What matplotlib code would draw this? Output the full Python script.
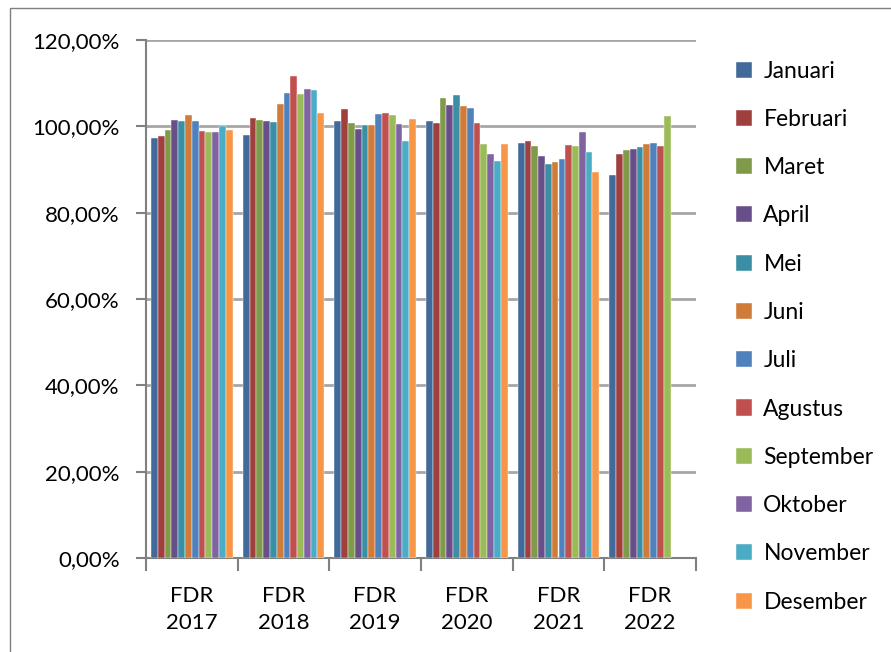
import matplotlib.pyplot as plt
import numpy as np
from matplotlib.patches import Rectangle
from matplotlib.ticker import FuncFormatter, MultipleLocator

plt.rcParams['font.family'] = ['Lato', 'DejaVu Sans']

# FDR per month, in percent
years = ["FDR\n2017", "FDR\n2018", "FDR\n2019", "FDR\n2020", "FDR\n2021", "FDR\n2022"]
months = ["Januari", "Februari", "Maret", "April", "Mei", "Juni", "Juli",
          "Agustus", "September", "Oktober", "November", "Desember"]

fdr_2017 = [97.3, 97.8, 99.1, 101.5, 101.2, 102.7, 101.3, 99.0, 98.8, 98.7, 100.1, 99.2]
fdr_2018 = [98.0, 102.0, 101.4, 101.2, 101.1, 105.1, 107.7, 111.7, 107.6, 108.7, 108.5, 103.2]
fdr_2019 = [101.3, 104.0, 100.8, 99.3, 100.2, 100.2, 102.9, 103.2, 102.6, 100.5, 96.5, 101.8]
fdr_2020 = [101.2, 100.8, 106.5, 105.0, 107.2, 104.8, 104.3, 100.8, 95.8, 93.5, 91.9, 95.9]
fdr_2021 = [96.1, 96.5, 95.5, 93.2, 91.2, 91.8, 92.5, 95.7, 95.4, 98.6, 94.1, 89.4]
fdr_2022 = [88.8, 93.5, 94.6, 94.8, 95.1, 95.9, 96.2, 95.5, 102.3, np.nan, np.nan, np.nan]

colors = ["#41699A", "#A0403E", "#7F9A48", "#694F8A", "#3B8FA5", "#D07B38",
          "#4F81BD", "#C0504D", "#9BBB59", "#8064A2", "#4BACC6", "#F79646"]

data = np.array([fdr_2017, fdr_2018, fdr_2019, fdr_2020, fdr_2021, fdr_2022])

fig = plt.figure(figsize=(8.91, 6.52), dpi=100)
ax = fig.add_axes([146 / 891, 1 - 558 / 652, 550 / 891, 518 / 652])

x = np.arange(len(years))
w = 0.89 / 12
for i, m in enumerate(months):
    ax.bar(x - 0.445 + w * (i + 0.5), data[:, i], width=w, color=colors[i],
           edgecolor="white", linewidth=0.3, label=m, zorder=3)

ax.set_ylim(0, 120)
ax.set_xlim(-0.5, len(years) - 0.5)
ax.yaxis.set_major_locator(MultipleLocator(20))
ax.yaxis.set_major_formatter(FuncFormatter(lambda v, p: f"{v:.2f}%".replace(".", ",")))
ax.grid(axis="y", color="#A6A6A6", linewidth=2, zorder=0)

# group boundaries carry the ticks, labels sit between them
ax.set_xticks(np.arange(len(years) + 1) - 0.5, minor=False)
ax.set_xticklabels([])
ax.set_xticks(x, minor=True)
ax.set_xticklabels(years, minor=True, fontsize=16, linespacing=1.45)
ax.tick_params(axis="x", which="major", length=9, color="#808080", width=1.5)
ax.tick_params(axis="x", which="minor", length=0, pad=20)
ax.tick_params(axis="y", length=7, color="#808080", width=1.5, labelsize=16, pad=12)

for s in ["top", "right"]:
    ax.spines[s].set_visible(False)
for s in ["left", "bottom"]:
    ax.spines[s].set_color("#808080")
    ax.spines[s].set_linewidth(1.5)

ax.legend(loc="upper left", bbox_to_anchor=(1.035, 1.0), frameon=False, fontsize=16.5,
          handlelength=0.7, handleheight=0.7, labelspacing=1.19, handletextpad=0.5)

fig.patches.append(Rectangle((10 / 891, -0.1), 1.2, 1.1 - 8 / 652, transform=fig.transFigure,
                             fill=False, edgecolor="#7F7F7F", linewidth=1))

fig.savefig("out.png", dpi=100)
